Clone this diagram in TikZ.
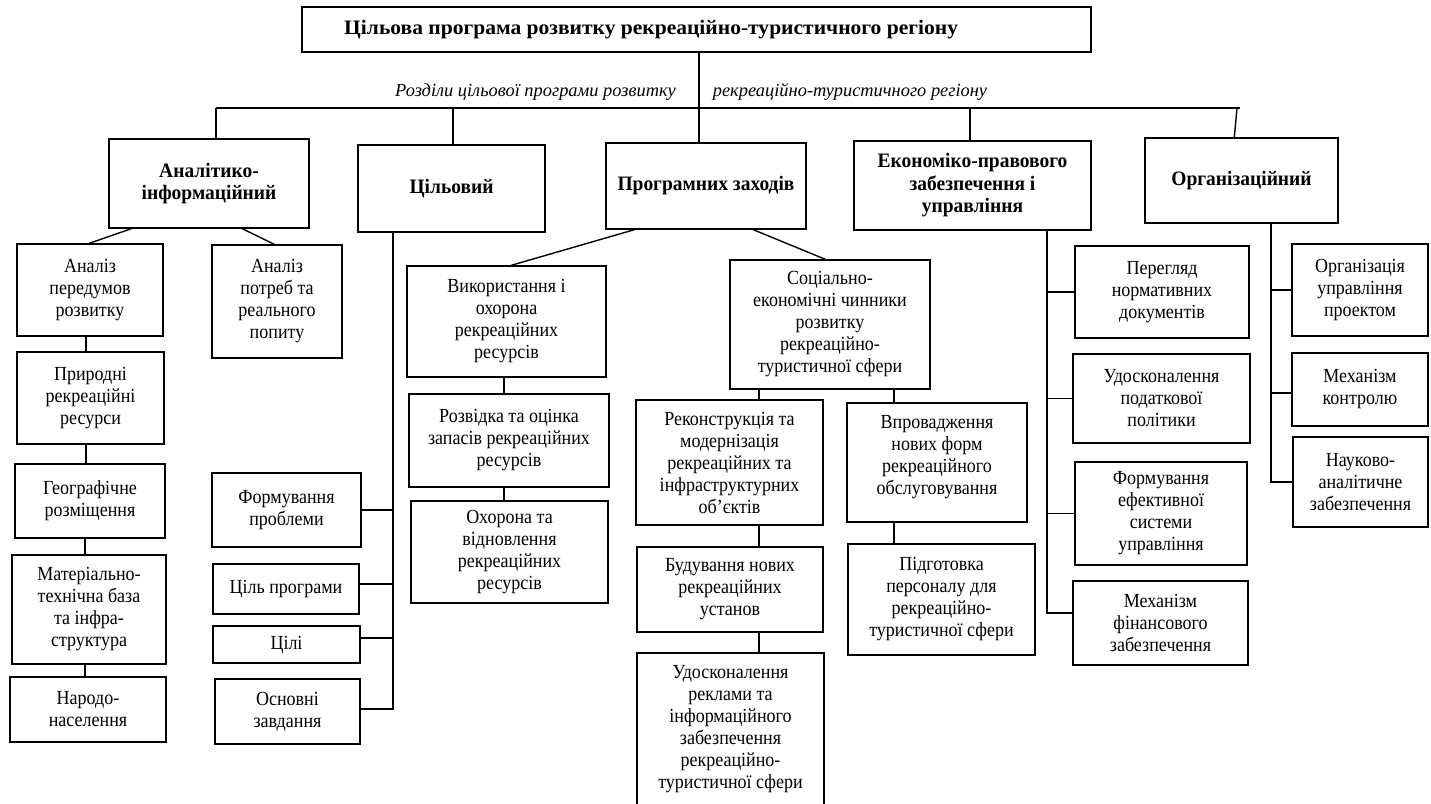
\documentclass[tikz,border=0pt]{standalone}
\usepackage{fontspec}
\setmainfont{Liberation Serif}
\newfontfamily\bodyf[FakeStretch=0.9]{Liberation Serif}
\newfontfamily\secf[FakeStretch=0.95]{Liberation Serif}
\newfontfamily\titf[FakeStretch=1.05]{Liberation Serif}
\newcommand{\rfs}{\bodyf\fontsize{20}{22}\selectfont}
\newcommand{\rfb}{\secf\fontsize{20.5}{22.5}\selectfont\bfseries}
\newcommand{\rft}{\titf\fontsize{20.5}{22.5}\selectfont\bfseries}
\newcommand{\rfi}{\fontsize{18.4}{21}\selectfont\itshape}
\tikzset{
  box/.style={draw, line width=1.4pt, inner sep=0pt, align=center, font=\rfs},
  sec/.style={box, font=\rfb},
  ln/.style={line width=1.4pt},
}
\newcommand{\bx}[7][box]{\node[#1, minimum width={(#5-#3)*1pt}, minimum height={(#6-#4)*1pt}] (#2) at ({(#3+#5)/2},{(#4+#6)/2}) {#7};}
\begin{document}
\begin{tikzpicture}[x=1pt,y=-1pt]
\useasboundingbox (0,0) rectangle (1431,803);
% top
\bx{top}{302}{7}{1091}{52}{}
\node[anchor=west, font=\rft, inner sep=0pt] (title) at (344,29.5) {Цільова програма розвитку рекреаційно-туристичного регіону};
\node[font=\rfi, inner sep=0pt] (lab1) at (535.5,92) {Розділи цільової програми розвитку};
\node[font=\rfi, inner sep=0pt] (lab2) at (850,92) {рекреаційно-туристичного регіону};
% sections
\bx[sec]{an}{109}{139}{309}{228}{Аналітико-\\інформаційний}
\bx[sec]{cil}{358}{145}{545}{232}{Цільовий}
\bx[sec]{prog}{606}{143}{806}{229}{Програмних заходів}
\bx[sec]{ek}{854}{141}{1091}{230}{Економіко-правового\\забезпечення і\\управління}
\bx[sec]{org}{1145}{138}{1338}{223}{Організаційний}
% column 1
\bx{ap}{17}{244}{163}{336}{Аналіз\\передумов\\розвитку}
\bx{apt}{212}{245}{342}{358}{Аналіз\\потреб та\\реального\\попиту}
\bx{pr}{17}{352}{164}{444}{Природні\\рекреаційні\\ресурси}
\bx{geo}{15}{464}{165}{538}{Географічне\\розміщення}
\bx{mat}{12}{555}{166}{664}{Матеріально-\\технічна база\\та інфра-\\структура}
\bx{nar}{10}{677}{166}{742}{Народо-\\населення}
% цільовий
\bx{fp}{212}{473}{361}{547}{Формування\\проблеми}
\bx{cp}{213}{564}{359}{614}{Ціль програми}
\bx{cl}{213}{626}{360}{663}{Цілі}
\bx{oz}{215}{679}{360}{744}{Основні\\завдання}
% програмних заходів
\bx{vyk}{407}{266}{606}{377}{Використання і\\охорона\\рекреаційних\\ресурсів}
\bx{roz}{409}{394}{609}{487}{Розвідка та оцінка\\запасів рекреаційних\\ресурсів}
\bx{oh}{411}{501}{608}{603}{Охорона та\\відновлення\\рекреаційних\\ресурсів}
\bx{soc}{730}{260}{930}{389}{Соціально-\\економічні чинники\\розвитку\\рекреаційно-\\туристичної сфери}
\bx{rek}{636}{400}{823}{525}{Реконструкція та\\модернізація\\рекреаційних та\\інфраструктурних\\об’єктів}
\bx{bud}{637}{547}{823}{632}{Будування нових\\рекреаційних\\установ}
\bx{udr}{637}{653}{824}{806}{Удосконалення\\реклами та\\інформаційного\\забезпечення\\рекреаційно-\\туристичної сфери}
\bx{vpr}{847}{403}{1027}{522}{Впровадження\\нових форм\\рекреаційного\\обслуговування\\[-6pt]\mbox{}}
\bx{pid}{848}{544}{1035}{655}{Підготовка\\персоналу для\\рекреаційно-\\туристичної сфери}
% економіко
\bx{per}{1075}{246}{1249}{338}{Перегляд\\нормативних\\документів}
\bx{pod}{1073}{354}{1250}{443}{Удосконалення\\податкової\\політики}
\bx{ef}{1075}{462}{1247}{565}{Формування\\ефективної\\системи\\управління}
\bx{mf}{1073}{581}{1248}{665}{Механізм\\фінансового\\забезпечення}
% організаційний
\bx{ou}{1292}{244}{1428}{336}{Організація\\управління\\проектом}
\bx{mk}{1292}{353}{1428}{426}{Механізм\\контролю}
\bx{na}{1293}{437}{1428}{527}{Науково-\\аналітичне\\забезпечення}
% ---- connectors
\coordinate (busL) at (216,108);
\coordinate (busR) at (1240,108);
\coordinate (b2) at (453,108);
\coordinate (b4) at (970,108);
\coordinate (b5) at (1237,108);
\coordinate (mx) at (699,0);
\draw[ln] (busL) -- (busR);
\draw[ln] (busL) -- (busL |- an.north);
\draw[ln] (b2) -- (b2 |- cil.north);
\draw[ln] (mx |- top.south) -- (mx |- prog.north);
\draw[ln] (b4) -- (b4 |- ek.north);
\draw[ln] (b5) -- ([xshift=90pt]org.north west);
% column 1
\draw[ln] ([xshift=23pt]an.south west) -- ([xshift=73pt]ap.north west);
\draw[ln] ([xshift=134pt]an.south west) -- ([xshift=63pt]apt.north west);
\coordinate (c1) at (86,0);
\coordinate (c2) at (85,0);
\draw[ln] (c1 |- ap.south) -- (c1 |- pr.north);
\draw[ln] (c1 |- pr.south) -- (c1 |- geo.north);
\draw[ln] (c2 |- geo.south) -- (c2 |- mat.north);
\draw[ln] (c2 |- mat.south) -- (c2 |- nar.north);
% цільовий trunk
\coordinate (cx) at (393,0);
\coordinate (ozt) at ([yshift=2.5pt]oz.east);
\coordinate (cpt) at ([yshift=5pt]cp.east);
\coordinate (clt) at ([yshift=6.5pt]cl.east);
\draw[ln] (cx |- cil.south) -- (cx |- ozt) -- (ozt);
\draw[ln] (fp.east) -- (cx |- fp.east);
\draw[ln] (cpt) -- (cx |- cpt);
\draw[ln] (clt) -- (cx |- clt);
% програмних
\draw[ln] ([xshift=29pt]prog.south west) -- ([xshift=105pt]vyk.north west);
\draw[ln] ([xshift=148pt]prog.south west) -- ([xshift=96pt]soc.north west);
\coordinate (px) at (504,0);
\draw[ln] (px |- vyk.south) -- (px |- roz.north);
\draw[ln] (px |- roz.south) -- (px |- oh.north);
\coordinate (sx) at (759,0);
\draw[ln] (sx |- soc.south) -- (sx |- rek.north);
\draw[ln] (sx |- rek.south) -- (sx |- bud.north);
\draw[ln] (sx |- bud.south) -- (sx |- udr.north);
\coordinate (vx) at (894,0);
\draw[ln] (vx |- soc.south) -- (vx |- vpr.north);
\draw[ln] (vx |- vpr.south) -- (vx |- pid.north);
% економіко trunk
\coordinate (ex) at (1047,0);
\coordinate (mft) at ([yshift=10pt]mf.west);
\draw[ln] (ex |- ek.south) -- (ex |- mft) -- (mft);
\draw[ln] (per.west) -- (ex |- per.west);
\draw[ln] (pod.west) -- (ex |- pod.west);
\draw[ln] (ef.west) -- (ex |- ef.west);
% організаційний trunk
\coordinate (ox) at (1271,0);
\coordinate (nat) at (na.west);
\coordinate (mkt) at ([yshift=-3.5pt]mk.west);
\draw[ln] (ox |- org.south) -- (ox |- nat) -- (nat);
\draw[ln] (ou.west) -- (ox |- ou.west);
\draw[ln] (mkt) -- (ox |- mkt);
\end{tikzpicture}
\end{document}
